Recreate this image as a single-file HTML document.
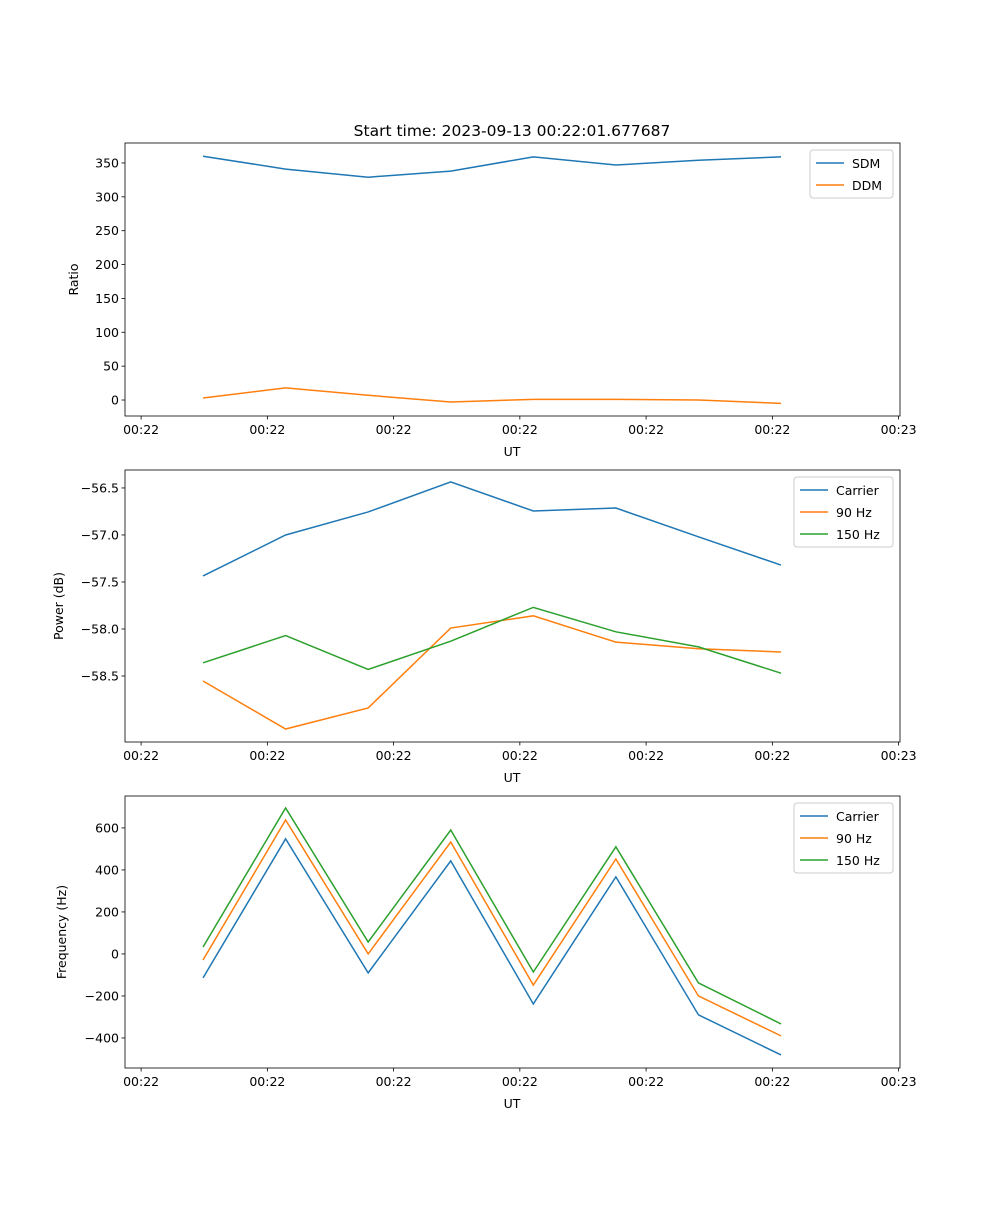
<!DOCTYPE html>
<html><head><meta charset="utf-8"><style>
body{margin:0;background:#fff;}
svg text{font-family:"DejaVu Sans","Liberation Sans",sans-serif;fill:#000;}
</style></head><body>
<svg id="fig" width="1000" height="1200" viewBox="0 0 1000 1200" xmlns="http://www.w3.org/2000/svg">
<rect width="1000" height="1200" fill="#fff"/>
<text x="512" y="136" font-size="15.5" text-anchor="middle">Start time: 2023-09-13 00:22:01.677687</text>
</svg>
<script>
const xIndex = [0,1,2,3,4,5,6,7];
const xTicks = [-0.75,0.779,2.308,3.837,5.366,6.895,8.424];
const xTickLabels = ['00:22','00:22','00:22','00:22','00:22','00:22','00:23'];
const sdm = [360,341,329,338,359,347,354,359];
const ddm = [3,18,7,-3,1,1,0,-5];
const ratioTicks = [0,50,100,150,200,250,300,350];
const pCarrier = [-57.436,-57.0,-56.755,-56.436,-56.745,-56.713,-57.02,-57.32];
const p90 = [-58.553,-59.064,-58.84,-57.99,-57.86,-58.14,-58.21,-58.245];
const p150 = [-58.36,-58.07,-58.43,-58.13,-57.77,-58.03,-58.19,-58.47];
const powerTicks = [-56.5,-57.0,-57.5,-58.0,-58.5];
const fCarrier = [-114,548,-90,443,-238,367,-290,-481];
const f90 = [-29,638,0,533,-148,452,-200,-390];
const f150 = [33,695,57,590,-86,510,-138,-333];
const freqTicks = [-400,-200,0,200,400,600];

const NS='http://www.w3.org/2000/svg';
const svg=document.getElementById('fig');
function el(tag,attrs,parent){const e=document.createElementNS(NS,tag);for(const k in attrs)e.setAttribute(k,attrs[k]);(parent||svg).appendChild(e);return e;}
const X0=125,X1=900,XMIN=-0.945,XMAX=8.441;
function xs(v){return X0+(v-XMIN)/(XMAX-XMIN)*(X1-X0);}
const C=['#1f77b4','#ff7f0e','#2ca02c'];
const FS=12.5;

function panel(name,top,bot,ymin,ymax,ticks,fmt,series,labels,ylabel,ylx,legW){
  const g=el('g',{});
  
  
  const ys=v=>bot-(v-ymin)/(ymax-ymin)*(bot-top);
  series.forEach((s,i)=>{
    const p=el('polyline',{points:s.map((v,j)=>xs(xIndex[j])+','+ys(v)).join(' '),fill:'none',stroke:C[i],'stroke-width':1.5},g);
    
    
  });
  el('rect',{x:X0,y:top,width:X1-X0,height:bot-top,fill:'none',stroke:'#000','stroke-width':0.8},g);
  xTicks.forEach((t,i)=>{
    const x=xs(t);
    el('line',{x1:x,x2:x,y1:bot,y2:bot+3.5,stroke:'#000','stroke-width':0.8},g);
    const tx=el('text',{x:x,y:bot+18,'font-size':FS,'text-anchor':'middle'},g);
    tx.textContent=xTickLabels[i];
    
    
  });
  const xl=el('text',{x:512,y:bot+40,'font-size':FS,'text-anchor':'middle'},g);
  xl.textContent='UT';
  
  
  ticks.forEach(t=>{
    const y=ys(t);
    el('line',{x1:X0-3.5,x2:X0,y1:y,y2:y,stroke:'#000','stroke-width':0.8},g);
    const tx=el('text',{x:X0-6,y:y+4.5,'font-size':FS,'text-anchor':'end'},g);
    tx.textContent=fmt(t);
    
    
  });
  const cy=(top+bot)/2;
  const yl=el('text',{x:ylx,y:cy,'font-size':FS,'text-anchor':'middle',transform:'rotate(-90 '+ylx+' '+cy+')'},g);
  yl.textContent=ylabel;
  
  
  const lx=X1-7-legW, ly=top+7, lh=labels.length*22+4;
  const lg=el('g',{},g);
  
  
  el('rect',{x:lx,y:ly,width:legW,height:lh,rx:3,fill:'#fff','fill-opacity':0.8,stroke:'#ccc'},lg);
  labels.forEach((l,i)=>{
    const yy=ly+13+i*22;
    el('line',{x1:lx+6,x2:lx+34,y1:yy,y2:yy,stroke:C[i],'stroke-width':1.5},lg);
    const t=el('text',{x:lx+42,y:yy+5,'font-size':FS},lg);
    t.textContent=l;
    
    
  });
}
const minus=s=>s.replace('-','\u2212');
panel('ratio-panel',143,416,-23.6,379.5,ratioTicks,v=>minus(String(v)),[sdm,ddm],['SDM','DDM'],'Ratio',78,83);
panel('power-panel',470,742,-59.202,-56.309,powerTicks,v=>minus(v.toFixed(1)),[pCarrier,p90,p150],['Carrier','90 Hz','150 Hz'],'Power (dB)',63,99);
panel('frequency-panel',796,1068,-543,752,freqTicks,v=>minus(String(v)),[fCarrier,f90,f150],['Carrier','90 Hz','150 Hz'],'Frequency (Hz)',66,99);
</script>
</body></html>
